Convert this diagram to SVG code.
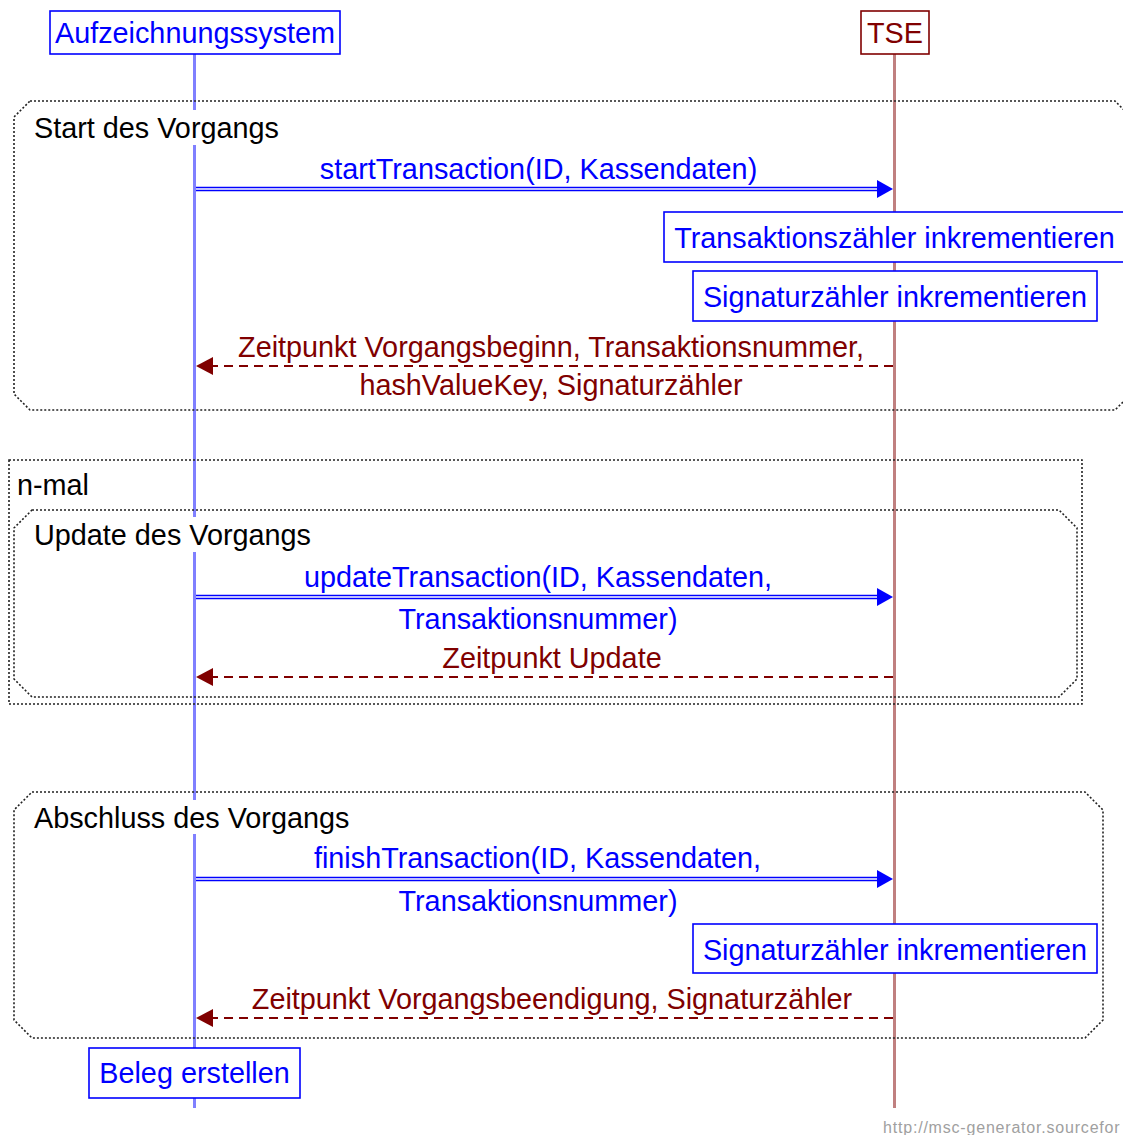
<svg xmlns="http://www.w3.org/2000/svg" width="1123" height="1135" viewBox="0 0 1123 1135">
<defs>
<style>
text{font-family:"Liberation Sans",Arial,sans-serif;font-size:28.8px}
.blue{fill:#0000ff}
.red{fill:#800000}
.blk{fill:#000000}
.mid{text-anchor:middle}
.box{fill:#ffffff;stroke:#0000ff;stroke-width:1.6}
.rbox{fill:#ffffff;stroke:#800000;stroke-width:1.6}
.grp{fill:none;stroke:#222222;stroke-width:1.6;stroke-dasharray:2 2}
.ll1{stroke:#8080ff;stroke-width:3}
.ll2{stroke:#c08080;stroke-width:3}
.call{stroke:#0000ff;stroke-width:1.5;fill:none}
.ret{stroke:#800000;stroke-width:2;stroke-dasharray:9 6;fill:none}
.bg{fill:#ffffff}
</style>
</defs>
<rect width="1123" height="1135" fill="#ffffff"/>

<g id="lifelines">
<line class="ll1" x1="194.5" y1="54" x2="194.5" y2="1108"/>
<line class="ll2" x1="894.5" y1="54" x2="894.5" y2="1108"/>
</g>

<g id="group-start">
<path class="grp" d="M30,101 H1115 L1131,117 V394 L1115,410 H30 L14,394 V117 Z"/>
<rect class="bg" x="30" y="110" width="255" height="35"/>
<text class="blk" x="34" y="138">Start des Vorgangs</text>
</g>

<g id="group-nmal">
<rect class="grp" x="9" y="460" width="1073" height="244"/>
<text class="blk" x="17" y="495">n-mal</text>
</g>

<g id="group-update">
<path class="grp" d="M32,510 H1059 L1077,528 V679 L1059,697 H32 L14,679 V528 Z"/>
<rect class="bg" x="30" y="517" width="285" height="35"/>
<text class="blk" x="34" y="545">Update des Vorgangs</text>
</g>

<g id="group-abschluss">
<path class="grp" d="M32,792 H1085 L1103,810 V1020 L1085,1038 H32 L14,1020 V810 Z"/>
<rect class="bg" x="30" y="800" width="323" height="34"/>
<text class="blk" x="34" y="828">Abschluss des Vorgangs</text>
</g>

<g id="node-aufzeichnungssystem">
<rect class="box" x="50" y="11" width="290" height="43"/>
<text class="blue mid" x="195" y="43">Aufzeichnungssystem</text>
</g>

<g id="node-tse">
<rect class="rbox" x="861" y="11" width="68" height="43"/>
<text class="red mid" x="895" y="43">TSE</text>
</g>

<g id="connectors">
<g id="msg-start">
<line class="call" x1="196" y1="187.5" x2="879" y2="187.5"/>
<line class="call" x1="196" y1="190.5" x2="879" y2="190.5"/>
<polygon points="893,189 877,180 877,198" fill="#0000ff"/>
<text class="blue mid" x="538.5" y="179">startTransaction(ID, Kassendaten)</text>
</g>
<g id="ret-start">
<line class="ret" x1="893" y1="366" x2="213" y2="366"/>
<polygon points="196,366 213,357 213,375" fill="#800000"/>
<text class="red mid" x="551" y="357">Zeitpunkt Vorgangsbeginn, Transaktionsnummer,</text>
<text class="red mid" x="551" y="395">hashValueKey, Signaturzähler</text>
</g>
<g id="msg-update">
<line class="call" x1="196" y1="595.5" x2="879" y2="595.5"/>
<line class="call" x1="196" y1="598.5" x2="879" y2="598.5"/>
<polygon points="893,597 877,588 877,606" fill="#0000ff"/>
<text class="blue mid" x="538" y="587">updateTransaction(ID, Kassendaten,</text>
<text class="blue mid" x="538" y="629">Transaktionsnummer)</text>
</g>
<g id="ret-update">
<line class="ret" x1="893" y1="677" x2="213" y2="677"/>
<polygon points="196,677 213,668 213,686" fill="#800000"/>
<text class="red mid" x="552" y="668">Zeitpunkt Update</text>
</g>
<g id="msg-finish">
<line class="call" x1="196" y1="877.5" x2="879" y2="877.5"/>
<line class="call" x1="196" y1="880.5" x2="879" y2="880.5"/>
<polygon points="893,879 877,870 877,888" fill="#0000ff"/>
<text class="blue mid" x="537.5" y="868">finishTransaction(ID, Kassendaten,</text>
<text class="blue mid" x="538" y="911">Transaktionsnummer)</text>
</g>
<g id="ret-finish">
<line class="ret" x1="893" y1="1018" x2="213" y2="1018"/>
<polygon points="196,1018 213,1009 213,1027" fill="#800000"/>
<text class="red mid" x="552" y="1009">Zeitpunkt Vorgangsbeendigung, Signaturzähler</text>
</g>
</g>

<g id="node-transaktionszaehler">
<rect class="box" x="664" y="212" width="462" height="50"/>
<text class="blue mid" x="894.5" y="248">Transaktionszähler inkrementieren</text>
</g>

<g id="node-signaturzaehler-1">
<rect class="box" x="693" y="271" width="404" height="50"/>
<text class="blue mid" x="895" y="307">Signaturzähler inkrementieren</text>
</g>

<g id="node-signaturzaehler-2">
<rect class="box" x="693" y="924" width="404" height="49"/>
<text class="blue mid" x="895" y="960">Signaturzähler inkrementieren</text>
</g>

<g id="node-beleg">
<rect class="box" x="89" y="1048" width="211" height="50"/>
<text class="blue mid" x="194.5" y="1083">Beleg erstellen</text>
</g>

<text x="883" y="1133" style="font-size:16px;letter-spacing:0.8px" fill="#a0a0a0">http://msc-generator.sourcefor</text>
</svg>
